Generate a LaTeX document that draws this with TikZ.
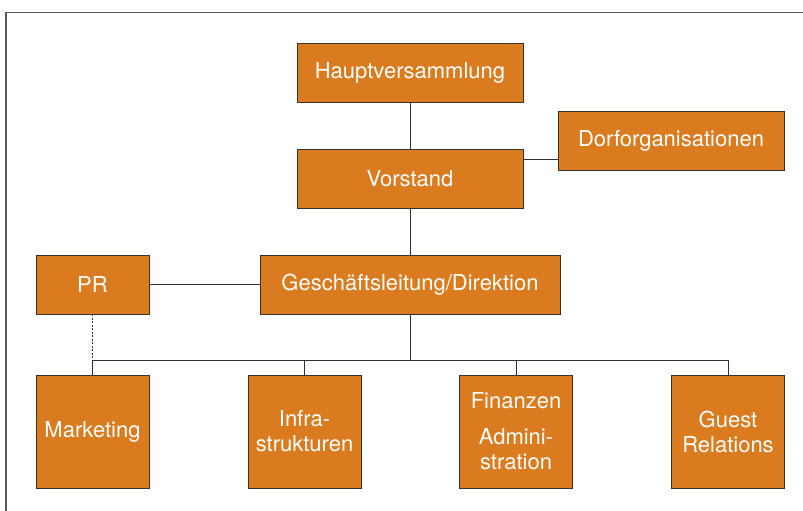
\documentclass[tikz,border=0pt]{standalone}
\usepackage{fontspec}
\setmainfont{TeX Gyre Heros}
\definecolor{boxfill}{RGB}{217,123,30}
\definecolor{boxline}{RGB}{60,50,40}
\definecolor{conn}{RGB}{50,50,50}
\definecolor{frame}{RGB}{90,90,90}
\begin{document}
\begin{tikzpicture}[x=1pt,y=-1pt,
  orgbox/.style={draw=boxline, line width=0.9pt, fill=boxfill, text=white,
    rectangle, inner sep=0pt, align=center,
    font=\fontsize{22}{25}\selectfont},
  wide/.style={orgbox, minimum width=226pt, minimum height=59pt},
  small/.style={orgbox, minimum width=113pt, minimum height=59pt},
  dept/.style={orgbox, minimum width=113pt, minimum height=113pt},
  link/.style={draw=conn, line width=0.8pt}]
\useasboundingbox (0,0) rectangle (803,511);
\draw[frame, line width=1.1pt] (803,12.7) -- (6,12.7) -- (6,511);

\node[wide] (haupt) at (410,72.5) {Hauptversammlung};
\node[wide] (dorf) at (671,140.5) {Dorforganisationen};
\node[wide] (vorstand) at (410,178.5) {Vorstand};
\node[orgbox, minimum width=300pt, minimum height=59pt] (gl) at (410,284.5) {Geschäftsleitung/Direktion};
\node[small] (pr) at (92.5,284.5) {PR};

\node[dept] (marketing) at (92.5,431.5) {Marketing};
\node[dept] (infra) at (304.5,431.5) {Infra-\\strukturen};
\node[dept] (finanzen) at (516,431.5) {Finanzen\\[11pt]Admini-\\stration};
\node[dept] (guest) at (728,431.5) {Guest\\Relations};

\coordinate (bus) at (410,360);

\draw[link] (haupt) -- (vorstand);
\draw[link] (vorstand.east |- 0,159) -- (dorf.west |- 0,159);
\draw[link] (vorstand) -- (gl);
\draw[link] (pr) -- (gl);
\draw[link] (gl) -- (bus);
\draw[link] (marketing.north) -- (marketing.north |- bus) -| (guest.north);
\draw[link] (infra.north) -- (infra.north |- bus);
\draw[link] (finanzen.north) -- (finanzen.north |- bus);
\draw[link, dash pattern=on 2pt off 1.5pt] (pr.south) -- (pr.south |- bus);
\end{tikzpicture}
\end{document}
